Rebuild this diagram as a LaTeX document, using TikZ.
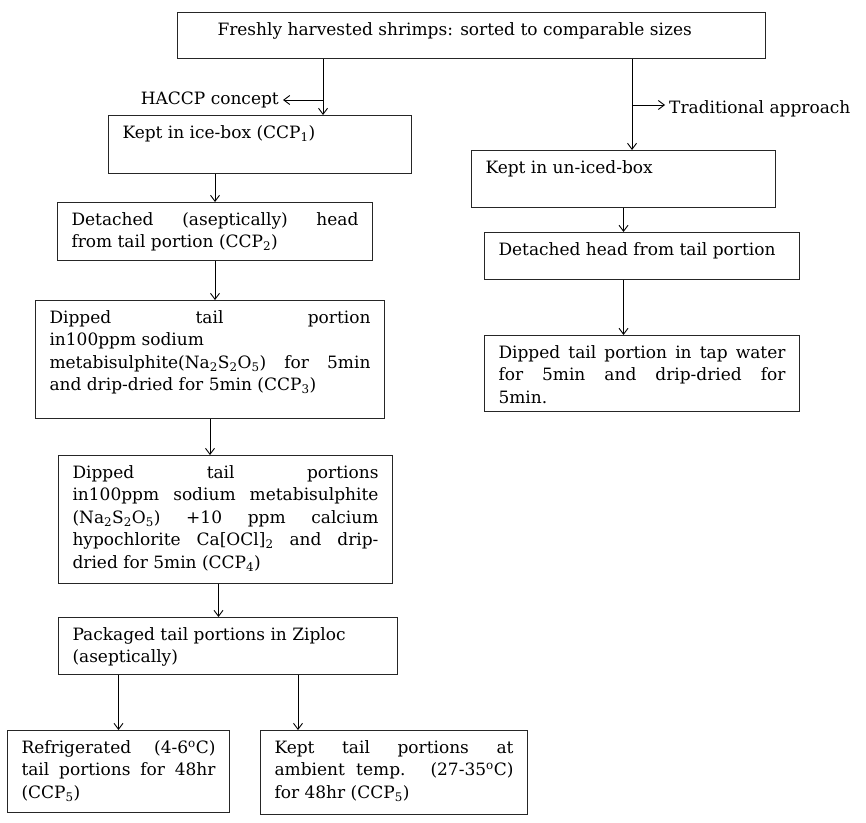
\documentclass[tikz,border=0pt]{standalone}
\usepackage{fontspec}
\setmainfont{DejaVu Serif}
\usepackage{tikz}
\usetikzlibrary{arrows.meta, calc}

% fixed-size text block: width, height, text
\newcommand{\boxtext}[3]{\parbox[t][#2][t]{#1}{#3}}

\begin{document}
\begin{tikzpicture}[
    x=1pt, y=-1pt,
    every node/.style={font=\fontsize{17}{22.5}\selectfont},
    box/.style={draw=black!85, line width=1pt, anchor=north west,
                inner xsep=14pt, inner ysep=10pt},
    arrow/.style={-{Straight Barb[length=6pt,width=9pt]}, line width=0.9pt},
    tag/.style={inner sep=1pt}
]
\useasboundingbox (0,0) rectangle (866,822);

\node[box] (top) at (177,12) {\boxtext{560pt}{26pt}{\hspace*{26pt}Freshly harvested shrimps: sorted to comparable sizes}};

% HACCP branch
\node[box] (ice) at (108,115) {\boxtext{275pt}{38pt}{Kept in ice-box (CCP\textsubscript{1})}};
\node[box] (det) at (57,202) {\boxtext{287pt}{38pt}{Detached (aseptically) head\linebreak from tail portion (CCP\textsubscript{2})}};
\node[box] (dip) at (35,300) {\boxtext{321pt}{98pt}{Dipped tail portion\linebreak in100ppm sodium\newline metabisulphite(Na\textsubscript{2}S\textsubscript{2}O\textsubscript{5}) for 5min\linebreak and drip-dried for 5min (CCP\textsubscript{3})}};
\node[box] (hyp) at (58,455) {\boxtext{306pt}{108pt}{Dipped tail portions\linebreak in100ppm sodium metabisulphite\linebreak (Na\textsubscript{2}S\textsubscript{2}O\textsubscript{5}) +10 ppm calcium\linebreak hypochlorite Ca[OCl]\textsubscript{2} and drip-\linebreak dried for 5min (CCP\textsubscript{4})}};
\node[box] (zip) at (58,617) {\boxtext{311pt}{37pt}{Packaged tail portions in Ziploc\newline (aseptically)}};
\node[box] (ref) at (7,730) {\boxtext{194pt}{62pt}{Refrigerated (4-6\textsuperscript{o}C)\linebreak tail portions for 48hr\linebreak (CCP\textsubscript{5})}};
\node[box] (kept) at (260,730) {\boxtext{239pt}{64pt}{Kept tail portions at\linebreak ambient temp. (27-35\textsuperscript{o}C)\linebreak for 48hr (CCP\textsubscript{5})}};

% traditional branch
\node[box] (unice) at (471,150) {\boxtext{276pt}{37pt}{Kept in un-iced-box}};
\node[box] (dhead) at (484,232) {\boxtext{287pt}{27pt}{Detached head from tail portion}};
\node[box] (tap) at (484,335) {\boxtext{287pt}{56pt}{Dipped tail portion in tap water\linebreak for 5min and drip-dried for\linebreak 5min.}};

\coordinate (hac) at (323,100);
\coordinate (trd) at (632,105);
\node[tag, anchor=east] (haccp) at (280,100) {HACCP concept};
\node[tag, anchor=west] (trad) at (668,109) {Traditional approach};

\draw[arrow] (top.south -| hac) -- (ice.north -| hac);
\draw[arrow] (hac) -- ([xshift=3pt]haccp.east);
\draw[arrow] (top.south -| trd) -- (unice.north -| trd);
\draw[arrow] (trd) -- ([xshift=-3pt]trad.west |- trd);

\draw[arrow] (ice.south -| det.north) -- (det.north);
\draw[arrow] (det.south) -- (dip.north -| det.south);
\draw[arrow] (dip.south) -- (hyp.north -| dip.south);
\draw[arrow] ([xshift=-7pt]hyp.south) -- ([xshift=-7pt]hyp.south |- zip.north);
\draw[arrow] (zip.south -| ref.north) -- (ref.north);
\draw[arrow] ([xshift=-96pt]kept.north |- zip.south) -- ([xshift=-96pt]kept.north);

\draw[arrow] (unice.south) -- (dhead.north -| unice.south);
\draw[arrow] (dhead.south -| unice.south) -- (tap.north -| unice.south);
\end{tikzpicture}
\end{document}
